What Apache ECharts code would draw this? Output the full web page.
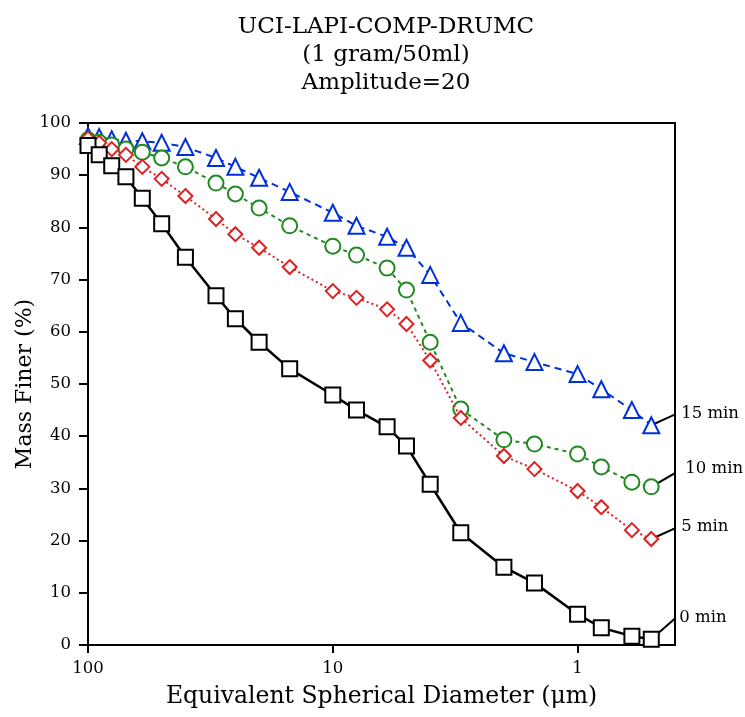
<!DOCTYPE html>
<html>
<head>
<meta charset="utf-8">
<script src="https://cdn.jsdelivr.net/npm/echarts@6/dist/echarts.min.js"></script>
<style>
html,body{margin:0;padding:0;background:#fff;}
#chart{width:745px;height:717px;}
</style>
</head>
<body>
<div id="chart"></div>
<script>
// ---- data ----
const titleLines = ['UCI-LAPI-COMP-DRUMC', '(1 gram/50ml)', 'Amplitude=20'];
const xAxisName = 'Equivalent Spherical Diameter (\u03bcm)';
const yAxisName = 'Mass Finer (%)';
const xTickValues = [100, 10, 1];
const diameters = [100, 90, 80, 70, 60, 50, 40, 30, 25, 20, 15, 10, 8, 6, 5, 4, 3, 2, 1.5, 1, 0.8, 0.6, 0.5];
const min0  = [95.7, 93.9, 91.8, 89.7, 85.6, 80.7, 74.3, 66.9, 62.5, 58.0, 52.9, 47.9, 45.0, 41.8, 38.1, 30.8, 21.5, 14.9, 11.9, 5.9, 3.3, 1.7, 1.1];
const min5  = [97.0, 96.2, 95.0, 93.9, 91.6, 89.3, 86.0, 81.6, 78.7, 76.1, 72.4, 67.8, 66.5, 64.3, 61.5, 54.5, 43.5, 36.2, 33.7, 29.5, 26.4, 22.0, 20.3];
const min10 = [96.8, 96.3, 95.8, 95.0, 94.4, 93.3, 91.6, 88.5, 86.4, 83.7, 80.3, 76.4, 74.7, 72.2, 68.0, 58.0, 45.2, 39.3, 38.5, 36.6, 34.1, 31.2, 30.3];
const min15 = [97.5, 97.3, 96.9, 96.6, 96.5, 96.2, 95.4, 93.3, 91.6, 89.5, 86.8, 82.8, 80.3, 78.2, 76.1, 70.9, 61.7, 55.9, 54.2, 51.9, 49.0, 45.0, 42.1];
const seriesNames = ['0 min', '5 min', '10 min', '15 min'];
// curve-label leader line ends (data coordinates: diameter, percent)
const labelAnchorX = [0.397, 0.39, 0.375, 0.39];
const labelAnchorY = [5.2, 22.6, 33.7, 44.4];

const FONT = 'DejaVu Serif';
const chart = echarts.init(document.getElementById('chart'), null, {renderer: 'canvas'});
const pairs = arr => diameters.map((d, i) => [d, arr[i]]);
const values = [min0, min5, min10, min15];

const styles = [
  {color: '#000000', symbol: 'rect', size: 15, type: 'solid', width: 2.5},
  {color: '#dd2020', symbol: 'diamond', size: 14, type: [2, 3], width: 2},
  {color: '#208a20', symbol: 'circle', size: 15, type: [4, 4], width: 2},
  {color: '#0030d8', symbol: 'triangle', size: 16, type: [7, 5], width: 2}
];

const series = [];
// leader lines with labels
for (let k = 0; k < 4; k++) {
  const arr = values[k];
  series.push({
    type: 'line', name: seriesNames[k] + ' label', clip: false, silent: true,
    showSymbol: true, z: 1,
    lineStyle: {color: '#000', width: 2},
    data: [
      {value: [diameters[diameters.length - 1], arr[arr.length - 1]], symbol: 'none'},
      {value: [labelAnchorX[k], labelAnchorY[k]], symbol: 'circle', symbolSize: 1,
        itemStyle: {color: 'rgba(0,0,0,0)'},
        label: {show: true, position: 'right', distance: 3, formatter: seriesNames[k],
          fontFamily: FONT, fontSize: 16.5, color: '#000'}}
    ]
  });
}
// data series (black last on top)
for (const k of [3, 2, 1, 0]) {
  const s = styles[k];
  series.push({
    type: 'line', name: seriesNames[k], clip: false,
    data: pairs(values[k]),
    symbol: s.symbol, symbolSize: s.size,
    lineStyle: {color: s.color, width: s.width, type: s.type},
    itemStyle: {color: '#ffffff', borderColor: s.color, borderWidth: 2},
    z: 3 + (3 - k)
  });
}

chart.setOption({
  animation: false,
  backgroundColor: '#ffffff',
  title: {
    text: titleLines.join('\n'),
    left: 381, top: 8, textAlign: 'center',
    textStyle: {fontFamily: FONT, fontSize: 23, fontWeight: 'normal', color: '#000', lineHeight: 28}
  },
  grid: {left: 88, right: 70, top: 123, bottom: 72, containLabel: false, outerBoundsMode: 'none',
    show: true, borderColor: '#000', borderWidth: 2, backgroundColor: 'transparent'},
  xAxis: {
    type: 'log', logBase: 10, min: 0.4, max: 100, inverse: true,
    name: xAxisName, nameLocation: 'middle', nameGap: 40, nameMoveOverlap: false,
    nameTextStyle: {fontFamily: FONT, fontSize: 23.5, color: '#000'},
    axisLine: {show: true, lineStyle: {color: '#000', width: 2}},
    axisTick: {show: true, length: 8, inside: false, lineStyle: {color: '#000', width: 2}, customValues: xTickValues},
    axisLabel: {fontFamily: FONT, fontSize: 16.5, color: '#000', margin: 15, customValues: xTickValues,
      formatter: v => String(v)},
    splitLine: {show: false}, minorTick: {show: false}
  },
  yAxis: {
    type: 'value', min: 0, max: 100, interval: 10,
    name: yAxisName, nameLocation: 'middle', nameGap: 52, nameMoveOverlap: false,
    nameTextStyle: {fontFamily: FONT, fontSize: 22, color: '#000'},
    axisLine: {show: true, lineStyle: {color: '#000', width: 2}},
    axisTick: {show: true, length: 9, inside: false, lineStyle: {color: '#000', width: 2}},
    axisLabel: {fontFamily: FONT, fontSize: 16.5, color: '#000', margin: 17},
    splitLine: {show: false}
  },
  series: series
});
</script>
</body>
</html>
